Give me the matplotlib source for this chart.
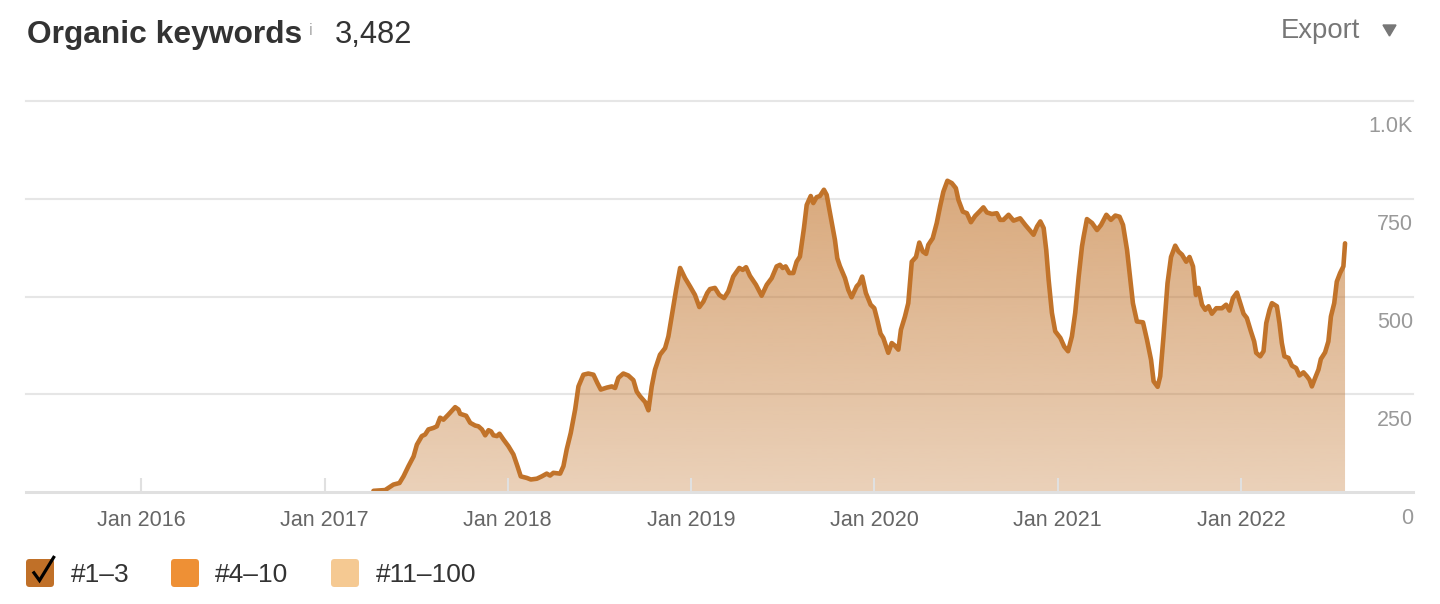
import matplotlib
matplotlib.use("Agg")
import matplotlib.pyplot as plt
import matplotlib.dates as mdates
import matplotlib.transforms as mtransforms
from matplotlib.patches import FancyBboxPatch, Polygon
from matplotlib.lines import Line2D
import numpy as np
import datetime as dt

# ---------------- data ----------------
# sample positions as decimal years
year_frac = [
    2017.267, 2017.331, 2017.376, 2017.409, 2017.431, 2017.458, 2017.486, 2017.504,
    2017.531, 2017.549, 2017.567, 2017.595, 2017.613, 2017.631, 2017.649, 2017.676,
    2017.713, 2017.731, 2017.740, 2017.773, 2017.795, 2017.822, 2017.840, 2017.859,
    2017.877, 2017.895, 2017.909, 2017.922, 2017.941, 2017.955, 2017.977, 2018.004,
    2018.031, 2018.053, 2018.071, 2018.104, 2018.126, 2018.159, 2018.186, 2018.213,
    2018.231, 2018.249, 2018.286, 2018.304, 2018.322, 2018.344, 2018.368, 2018.386,
    2018.413, 2018.440, 2018.468, 2018.489, 2018.508, 2018.541, 2018.568, 2018.586,
    2018.604, 2018.631, 2018.658, 2018.686, 2018.704, 2018.722, 2018.750, 2018.768,
    2018.786, 2018.804, 2018.831, 2018.859, 2018.877, 2018.895, 2018.919, 2018.941,
    2018.968, 2018.995, 2019.022, 2019.046, 2019.068, 2019.089, 2019.104, 2019.131,
    2019.155, 2019.181, 2019.204, 2019.231, 2019.264, 2019.283, 2019.301, 2019.322,
    2019.355, 2019.386, 2019.414, 2019.441, 2019.468, 2019.486, 2019.501, 2019.517,
    2019.537, 2019.559, 2019.577, 2019.595, 2019.617, 2019.632, 2019.654, 2019.668,
    2019.686, 2019.704, 2019.726, 2019.741, 2019.763, 2019.786, 2019.799, 2019.813,
    2019.841, 2019.859, 2019.877, 2019.905, 2019.919, 2019.935, 2019.955, 2019.981,
    2020.001, 2020.017, 2020.035, 2020.050, 2020.077, 2020.096, 2020.114, 2020.132,
    2020.146, 2020.168, 2020.186, 2020.205, 2020.228, 2020.246, 2020.265, 2020.283,
    2020.295, 2020.319, 2020.341, 2020.359, 2020.377, 2020.399, 2020.423, 2020.445,
    2020.459, 2020.483, 2020.505, 2020.527, 2020.550, 2020.573, 2020.595, 2020.614,
    2020.641, 2020.668, 2020.686, 2020.704, 2020.732, 2020.759, 2020.795, 2020.823,
    2020.846, 2020.868, 2020.887, 2020.905, 2020.923, 2020.937, 2020.950, 2020.968,
    2020.986, 2021.014, 2021.035, 2021.056, 2021.077, 2021.095, 2021.114, 2021.132,
    2021.141, 2021.159, 2021.187, 2021.214, 2021.236, 2021.265, 2021.290, 2021.314,
    2021.337, 2021.356, 2021.378, 2021.396, 2021.410, 2021.432, 2021.465, 2021.487,
    2021.509, 2021.523, 2021.545, 2021.559, 2021.577, 2021.599, 2021.618, 2021.641,
    2021.659, 2021.678, 2021.701, 2021.719, 2021.738, 2021.754, 2021.768, 2021.787,
    2021.805, 2021.823, 2021.841, 2021.865, 2021.896, 2021.919, 2021.937, 2021.956,
    2021.978, 2021.996, 2022.014, 2022.032, 2022.054, 2022.072, 2022.083, 2022.105,
    2022.123, 2022.138, 2022.156, 2022.169, 2022.196, 2022.210, 2022.223, 2022.237,
    2022.259, 2022.278, 2022.301, 2022.319, 2022.341, 2022.360, 2022.374, 2022.387,
    2022.405, 2022.423, 2022.436, 2022.459, 2022.477, 2022.491, 2022.509, 2022.523,
    2022.541, 2022.559, 2022.568,
]
keywords = [
    3, 5, 19, 23, 40, 66, 91, 121,
    143, 147, 160, 164, 168, 190, 185, 198,
    217, 211, 200, 195, 177, 170, 168, 160,
    145, 158, 155, 145, 143, 149, 134, 117,
    96, 66, 40, 36, 32, 34, 40, 47,
    42, 49, 47, 66, 109, 151, 211, 270,
    300, 303, 300, 279, 262, 267, 270, 266,
    292, 303, 298, 286, 257, 245, 230, 209,
    270, 313, 351, 368, 398, 449, 517, 573,
    547, 526, 504, 473, 487, 509, 519, 522,
    504, 496, 513, 551, 573, 568, 575, 553,
    530, 502, 530, 547, 577, 581, 573, 577,
    560, 560, 589, 602, 675, 734, 757, 739,
    754, 757, 773, 760, 704, 645, 598, 578,
    547, 517, 498, 526, 533, 551, 509, 479,
    470, 441, 405, 394, 356, 381, 374, 364,
    415, 449, 483, 589, 601, 638, 615, 609,
    632, 649, 688, 730, 768, 796, 790, 777,
    747, 717, 713, 690, 706, 717, 728, 715,
    711, 713, 696, 696, 709, 694, 700, 683,
    670, 658, 679, 692, 675, 619, 543, 458,
    411, 394, 372, 360, 398, 458, 551, 628,
    653, 698, 688, 670, 683, 709, 696, 707,
    704, 683, 619, 543, 483, 436, 434, 389,
    338, 283, 269, 296, 398, 534, 601, 630,
    615, 607, 589, 601, 577, 504, 522, 479,
    466, 475, 456, 470, 470, 479, 464, 496,
    510, 483, 456, 445, 411, 385, 356, 347,
    360, 432, 466, 483, 475, 432, 381, 347,
    343, 323, 317, 298, 306, 296, 287, 270,
    292, 313, 340, 357, 385, 449, 483, 538,
    560, 577, 636,
]
x_range = [2015.373, 2022.939]
tick_years = [2016, 2017, 2018, 2019, 2020, 2021, 2022]
tick_labels = ["Jan 2016", "Jan 2017", "Jan 2018", "Jan 2019", "Jan 2020", "Jan 2021", "Jan 2022"]
y_ticks = [0, 250, 500, 750, 1000]
y_labels = ["0", "250", "500", "750", "1.0K"]
legend_labels = ["#1\u20133", "#4\u201310", "#11\u2013100"]
legend_colors = ["#C07028", "#EE9035", "#F5C992"]
total_keywords = "3,482"

# ---------------- style ----------------
plt.rcParams["font.family"] = ["Liberation Sans", "DejaVu Sans"]
LINE = "#C1732A"
W, H = 1440, 604


def dec_to_date(t):
    y = int(t)
    start = dt.datetime(y, 1, 1)
    end = dt.datetime(y + 1, 1, 1)
    return start + (end - start) * (t - y)


xs = mdates.date2num([dec_to_date(t) for t in year_frac])
vals = np.array(keywords, dtype=float)
x0, x1 = mdates.date2num([dec_to_date(t) for t in x_range])

fig = plt.figure(figsize=(W / 100, H / 100), dpi=100)
ax = fig.add_axes([26 / W, (H - 492) / H, (1413 - 26) / W, (492 - 101) / H])

# gridlines
for v in y_ticks[1:]:
    ax.axhline(v, color="#e6e6e6", lw=1.5, zorder=0, clip_on=False)
ax.axhline(0, color="#e0e0e0", lw=2.2, zorder=4, clip_on=False)

# gradient fill under curve
poly = ax.fill_between(xs, vals, 0, facecolor="none", edgecolor="none")
rgb = matplotlib.colors.to_rgb(LINE)
n = 256
grad = np.zeros((n, 1, 4))
grad[..., 0], grad[..., 1], grad[..., 2] = rgb
grad[:, 0, 3] = np.linspace(0.33, 0.69, n)
im = ax.imshow(grad, extent=[x0, x1, 0, 1000], origin="lower", aspect="auto",
               zorder=1, interpolation="bilinear")
im.set_clip_path(poly.get_paths()[0], transform=ax.transData)

ax.plot(xs, vals, color=LINE, lw=3.3, solid_joinstyle="round",
        solid_capstyle="round", zorder=3)

ax.set_xlim(x0, x1)
ax.set_ylim(0, 1000)
for s in ax.spines.values():
    s.set_visible(False)

ax.set_xticks(mdates.date2num([dt.datetime(y, 1, 1) for y in tick_years]))
ax.set_xticklabels(tick_labels)
ax.tick_params(axis="x", direction="in", length=10, width=1.5, color="#e0e0e0",
               labelsize=15.5, labelcolor="#666666", pad=13)
ax.set_yticks([])

off = mtransforms.offset_copy(ax.get_yaxis_transform(), fig=fig, x=0, y=-26, units="dots")
for v, lab in zip(y_ticks, y_labels):
    ax.text(1.0, v, lab, transform=off, ha="right", va="center",
            fontsize=15.5, color="#999999")

# ---------------- header ----------------
def fx(px):
    return px / W


def fy(py):
    return 1 - py / H


fig.text(fx(27), fy(43), "Organic keywords", fontsize=22.9, fontweight="bold",
         color="#333333", va="baseline", ha="left")
fig.text(fx(309), fy(35), "i", fontsize=11.5, color="#aaaaaa", va="baseline", ha="left")
fig.text(fx(335), fy(43), total_keywords, fontsize=22.2, color="#333333",
         va="baseline", ha="left")
fig.text(fx(1281), fy(37.5), "Export", fontsize=19.8, color="#777777",
         va="baseline", ha="left")
tri = Polygon([(fx(1383), fy(25)), (fx(1396), fy(25)), (fx(1389.5), fy(36))],
              closed=True, transform=fig.transFigure, color="#777777")
fig.patches.append(tri)

# ---------------- legend ----------------
inch = fig.dpi_scale_trans
sq_x = [26, 171, 331]
txt_x = [70.5, 215, 375.5]
for sx, tx, c, lab in zip(sq_x, txt_x, legend_colors, legend_labels):
    box = FancyBboxPatch((sx / 100, (H - 587) / 100), 28 / 100, 28 / 100,
                         boxstyle="round,pad=0,rounding_size=0.035",
                         transform=inch, facecolor=c, edgecolor="none")
    fig.patches.append(box)
    fig.text(fx(tx), fy(582), lab, fontsize=19, color="#333333",
             va="baseline", ha="left")
check = Line2D(np.array([33, 39.5, 54.5]) / 100,
               (H - np.array([571.5, 580.5, 556.0])) / 100,
               transform=inch, color="black", lw=2.3,
               solid_joinstyle="miter", solid_capstyle="butt")
fig.lines.append(check)

fig.savefig("out.png", dpi=100)
